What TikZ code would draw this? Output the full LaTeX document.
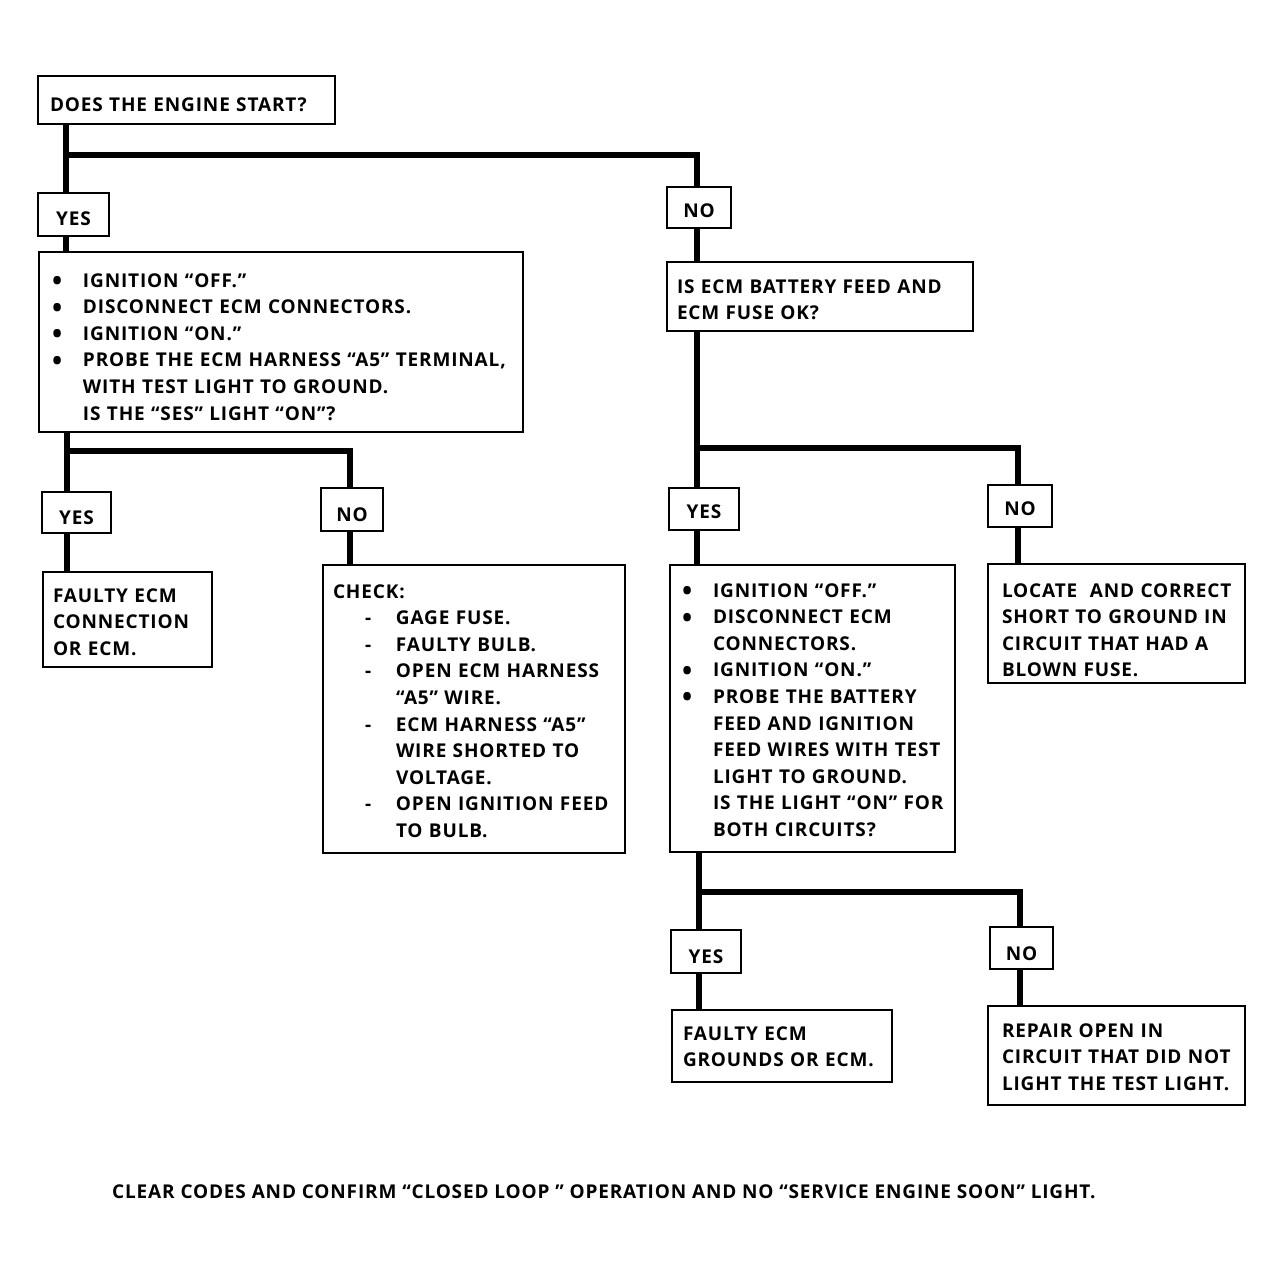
\documentclass[tikz,border=0pt]{standalone}
\usepackage{fontspec}
\setmainfont{Open Sans}[LetterSpace=4.5]
\newcommand\bul{\makebox[31pt][l]{\raisebox{-3.5pt}{\fontsize{27}{27}\selectfont\textbullet}}}
\newcommand\ind{\hspace*{31pt}}
\newcommand\dsh{\hspace*{32pt}\makebox[31pt][l]{-}}
\begin{document}
\begin{tikzpicture}[x=1pt,y=-1pt,
  every node/.style={font=\bfseries\fontsize{19}{26.6}\selectfont},
  box/.style={draw, line width=1.5pt, anchor=north west, inner ysep=0pt, outer sep=0pt, align=left},
  tag/.style={box, align=center, inner xsep=0pt},
  link/.style={line width=6.5pt, line join=miter}]
\useasboundingbox (0,0) rectangle (1283,1278);
\fill[white] (0,0) rectangle (1283,1278);

\node[box, inner xsep=12pt, text width=273pt, text height=35pt, text depth=13pt] (start) at (38,76) {\mbox{DOES THE ENGINE START?}};

\node[tag, text width=71pt, text height=32pt, text depth=11pt] (yes1) at (38,193) {YES};
\node[tag, text width=64pt, text height=30pt, text depth=11pt] (no1) at (667,187) {NO};

\node[box, inner xsep=13pt, text width=458pt, text height=35pt, text depth=145pt] (q1) at (39,252) {%
\mbox{\bul IGNITION “OFF.”}\\
\mbox{\bul DISCONNECT ECM CONNECTORS.}\\
\mbox{\bul IGNITION “ON.”}\\
\mbox{\bul PROBE THE ECM HARNESS “A5” TERMINAL,}\\
\mbox{\ind WITH TEST LIGHT TO GROUND.}\\
\mbox{\ind IS THE “SES” LIGHT “ON”?}};

\node[box, inner xsep=10pt, text width=286pt, text height=31pt, text depth=38pt] (q2) at (667,262) {%
\mbox{IS ECM BATTERY FEED AND}\\
\mbox{ECM FUSE OK?}};

\node[tag, text width=69pt, text height=32pt, text depth=9pt] (yes2) at (42,492) {YES};
\node[tag, text width=62pt, text height=33pt, text depth=10pt] (no2) at (321,488) {NO};

\node[box, inner xsep=10pt, text width=149pt, text height=30pt, text depth=65pt] (res1) at (43,572) {%
\mbox{FAULTY ECM}\\
\mbox{CONNECTION}\\
\mbox{OR ECM.}};

\node[box, inner xsep=10pt, text width=282pt, text height=33pt, text depth=255pt] (check) at (323,565) {%
\mbox{CHECK:}\\
\mbox{\dsh GAGE FUSE.}\\
\mbox{\dsh FAULTY BULB.}\\
\mbox{\dsh OPEN ECM HARNESS}\\
\mbox{\hspace*{63pt}“A5” WIRE.}\\
\mbox{\dsh ECM HARNESS “A5”}\\
\mbox{\hspace*{63pt}WIRE SHORTED TO}\\
\mbox{\hspace*{63pt}VOLTAGE.}\\
\mbox{\dsh OPEN IGNITION FEED}\\
\mbox{\hspace*{63pt}TO BULB.}};

\node[tag, text width=70pt, text height=30pt, text depth=12pt] (yes3) at (669,488) {YES};
\node[tag, text width=64pt, text height=30pt, text depth=12pt] (no3) at (988,485) {NO};

\node[box, inner xsep=12pt, text width=261pt, text height=32pt, text depth=255pt] (q3) at (670,565) {%
\mbox{\bul IGNITION “OFF.”}\\
\mbox{\bul DISCONNECT ECM}\\
\mbox{\ind CONNECTORS.}\\
\mbox{\bul IGNITION “ON.”}\\
\mbox{\bul PROBE THE BATTERY}\\
\mbox{\ind FEED AND IGNITION}\\
\mbox{\ind FEED WIRES WITH TEST}\\
\mbox{\ind LIGHT TO GROUND.}\\
\mbox{\ind IS THE LIGHT “ON” FOR}\\
\mbox{\ind BOTH CIRCUITS?}};

\node[box, inner xsep=14pt, text width=229pt, text height=33pt, text depth=86pt] (loc) at (988,564) {%
\mbox{LOCATE\ \ AND CORRECT}\\
\mbox{SHORT TO GROUND IN}\\
\mbox{CIRCUIT THAT HAD A}\\
\mbox{BLOWN FUSE.}};

\node[tag, text width=70pt, text height=33pt, text depth=10pt] (yes4) at (671,930) {YES};
\node[tag, text width=63pt, text height=33pt, text depth=9pt] (no4) at (990,927) {NO};

\node[box, inner xsep=11pt, text width=198pt, text height=30pt, text depth=42pt] (res3) at (672,1010) {%
\mbox{FAULTY ECM}\\
\mbox{GROUNDS OR ECM.}};

\node[box, inner xsep=14pt, text width=229pt, text height=31pt, text depth=68pt] (res4) at (988,1006) {%
\mbox{REPAIR OPEN IN}\\
\mbox{CIRCUIT THAT DID NOT}\\
\mbox{LIGHT THE TEST LIGHT.}};

\node[anchor=base west, inner sep=0pt] (note) at (112,1198) {CLEAR CODES AND CONFIRM “CLOSED LOOP ” OPERATION AND NO “SERVICE ENGINE SOON” LIGHT.};

\coordinate (j1) at (66,155); \coordinate (k1) at (697,155);
\draw[link] (start.south -| j1) -- (yes1.north -| j1);
\draw[link] (j1) -- (k1) -- (no1.north -| k1);
\draw[link] (yes1.south -| j1) -- (q1.north -| j1);
\draw[link] (no1.south -| k1) -- (q2.north -| k1);

\coordinate (j2) at (67,451); \coordinate (k2) at (350,451);
\draw[link] (q1.south -| j2) -- (yes2.north -| j2);
\draw[link] (j2) -- (k2) -- (no2.north -| k2);
\draw[link] (yes2.south -| j2) -- (res1.north -| j2);
\draw[link] (no2.south -| k2) -- (check.north -| k2);

\coordinate (j3) at (697,448); \coordinate (k3) at (1018,448);
\draw[link] (q2.south -| j3) -- (yes3.north -| j3);
\draw[link] (j3) -- (k3) -- (no3.north -| k3);
\draw[link] (yes3.south -| j3) -- (q3.north -| j3);
\draw[link] (no3.south -| k3) -- (loc.north -| k3);

\coordinate (j4) at (699,892); \coordinate (k4) at (1020,892);
\draw[link] (q3.south -| j4) -- (yes4.north -| j4);
\draw[link] (j4) -- (k4) -- (no4.north -| k4);
\draw[link] (yes4.south -| j4) -- (res3.north -| j4);
\draw[link] (no4.south -| k4) -- (res4.north -| k4);
\end{tikzpicture}
\end{document}
